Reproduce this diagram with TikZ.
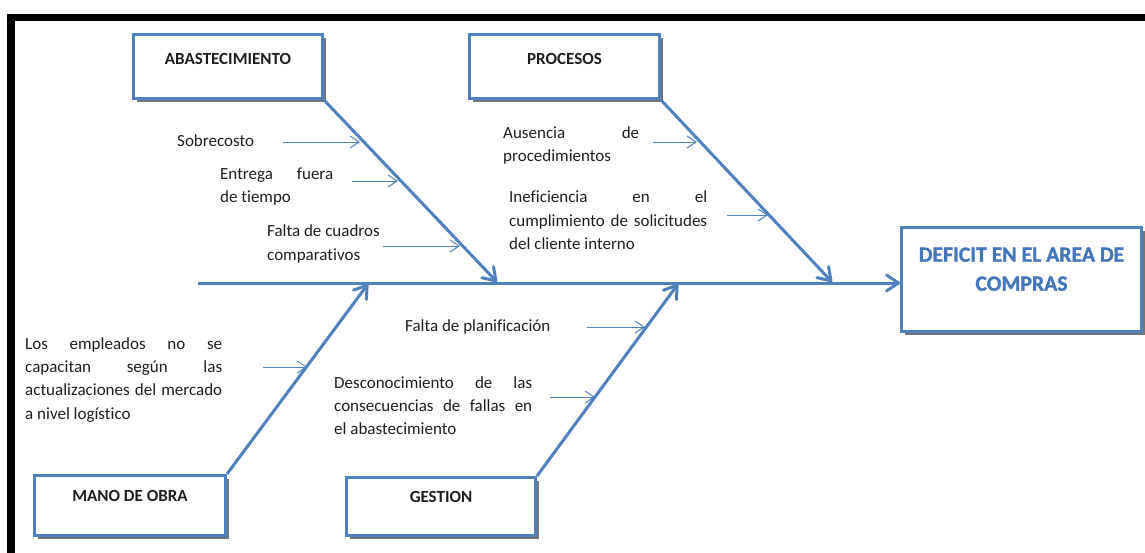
\documentclass[tikz,border=0pt]{standalone}
\usepackage{fontspec}
\setmainfont{Carlito}[Ligatures=NoCommon]
\newfontfamily\heavyfont{Carlito}[Ligatures=NoCommon, BoldFeatures={FakeBold=1.3}]
\usetikzlibrary{arrows.meta,shadows}
\definecolor{bone}{RGB}{79,129,189}
\definecolor{headblue}{RGB}{68,118,186}
\definecolor{ink}{RGB}{30,30,30}
\tolerance=10000 \hbadness=10000 \hyphenpenalty=10000
\begin{document}
\begin{tikzpicture}[x=1pt,y=-1pt,
  every node/.style={text=ink},
  catbox/.style={draw=bone, line width=3pt, fill=white, inner sep=0pt,
    font=\fontsize{17}{23.3}\selectfont\bfseries, text height=11pt,
    drop shadow={shadow xshift=3pt, shadow yshift=-3pt, fill=black!60, opacity=.9}},
  cause/.style={inner sep=0pt, anchor=base west, font=\fontsize{17}{23.3}\selectfont},
  bonearrow/.style={draw=bone, line width=3pt,
    -{Straight Barb[length=12pt,width=16pt,line width=3pt,round]}},
  twig/.style={draw=bone, line width=1pt,
    -{Straight Barb[length=9pt,width=12pt,line width=1pt]}}
]
\useasboundingbox (0,0) rectangle (1145,552);
\fill[white] (0,0) rectangle (1145,552);

% frame
\draw[line width=7.5pt, line join=miter] (11,560) -- (11,17.5) -- (1150,17.5);

% category boxes and effect box
\node[catbox, minimum width=189pt, minimum height=64pt, text depth=16pt] (abas) at (228,66.5) {ABASTECIMIENTO};
\node[catbox, minimum width=190pt, minimum height=64pt, text depth=16pt] (proc) at (564.5,66.5) {PROCESOS};
\node[catbox, minimum width=191pt, minimum height=60pt, text depth=18.6pt] (mano) at (130,505.5) {MANO DE OBRA};
\node[catbox, minimum width=189pt, minimum height=58pt, text depth=18.6pt] (gest) at (441,506.5) {GESTION};
\node[catbox, minimum width=240pt, minimum height=104pt, text height=14pt, text depth=49.6pt,
  text=headblue] (efecto) at (1021.5,279.5)
  {\parbox[t]{236pt}{\centering\heavyfont\fontsize{21.7}{29}\selectfont\bfseries DEFICIT EN EL AREA DE\\COMPRAS}};

% spine
\coordinate (spine) at (198,283);
\draw[bonearrow] (spine) -- (spine -| efecto.west);

% main bones
\coordinate (abasEnd) at (497,282);
\coordinate (procEnd) at (832,282);
\coordinate (manoEnd) at (368,284);
\coordinate (gestEnd) at (678,284);
\draw[bonearrow] (abas.south east) -- (abasEnd);
\draw[bonearrow] (proc.south east) -- (procEnd);
\draw[bonearrow] (mano.north east) -- (manoEnd);
\draw[bonearrow] (gest.north east) -- (gestEnd);

% causes
\node[cause] (c1) at (177,146) {Sobrecosto};
\node[cause] (c2) at (220,179.3) {\parbox[t]{113pt}{Entrega fuera\linebreak de tiempo}};
\node[cause] (c3) at (267,236.7) {\parbox[t]{130pt}{Falta de cuadros\\comparativos}};
\node[cause] (c4) at (503,138.3) {\parbox[t]{136pt}{Ausencia de\linebreak procedimientos}};
\node[cause] (c5) at (509,202.7) {\parbox[t]{198pt}{Ineficiencia en el\linebreak cumplimiento de solicitudes\linebreak del cliente interno}};
\node[cause] (c6) at (25,349.3) {\parbox[t]{197pt}{Los empleados no se\linebreak capacitan según las\linebreak actualizaciones del mercado\linebreak a nivel logístico}};
\node[cause] (c7) at (405,331) {Falta de planificación};
\node[cause] (c8) at (334,388.3) {\parbox[t]{198pt}{Desconocimiento de las\linebreak consecuencias de fallas en\linebreak el abastecimiento}};

% cause arrows
\coordinate (t1a) at (283,142); \coordinate (t1b) at (360,142);
\coordinate (t2a) at (352,181); \coordinate (t2b) at (398,181);
\coordinate (t3a) at (383,246); \coordinate (t3b) at (460,246);
\coordinate (t4a) at (653,142); \coordinate (t4b) at (697,142);
\coordinate (t5a) at (727,215); \coordinate (t5b) at (768,215);
\coordinate (t6a) at (263,367); \coordinate (t6b) at (307,367);
\coordinate (t7a) at (587,327); \coordinate (t7b) at (645,327);
\coordinate (t8a) at (550,397); \coordinate (t8b) at (595,397);
\foreach \i in {1,...,8} {\draw[twig] (t\i a) -- (t\i b);}
\end{tikzpicture}
\end{document}
